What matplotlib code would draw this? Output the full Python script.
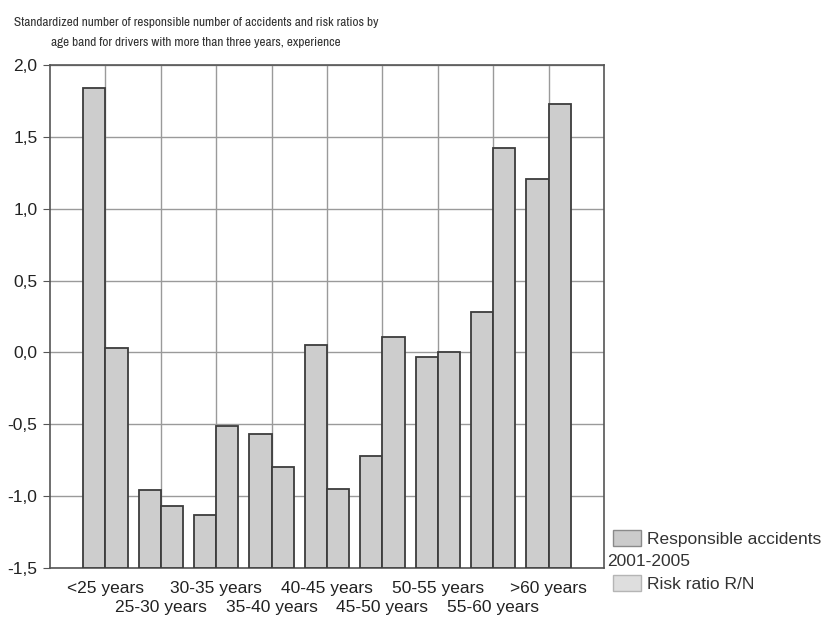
import numpy as np
import matplotlib.pyplot as plt
from matplotlib.patches import Patch
from matplotlib import font_manager

plt.rcParams['font.family'] = ['Liberation Sans', 'DejaVu Sans']

age_bands = ["<25 years", "25-30 years", "30-35 years", "35-40 years", "40-45 years",
             "45-50 years", "50-55 years", "55-60 years", ">60 years"]
responsible = [1.84, -0.96, -1.13, -0.57, 0.05, -0.72, -0.03, 0.28, 1.21]
risk_ratio = [0.03, -1.07, -0.51, -0.80, -0.95, 0.11, 0.00, 1.42, 1.73]
yticks = [-1.5, -1.0, -0.5, 0.0, 0.5, 1.0, 1.5, 2.0]
title_lines = ["Standardized number of responsible number of accidents and risk ratios by",
               "age band for drivers with more than three years, experience"]

base = -1.5
x = np.arange(1, len(age_bands) + 1)
w = 0.4

fig = plt.figure(figsize=(8.23, 6.17), dpi=100)
ax = fig.add_axes([50 / 823, 49 / 617, 554 / 823, 503 / 617])

ax.bar(x - w / 2, np.array(responsible) - base, w, bottom=base, align='center',
       color='#cdcdcd', edgecolor='#3c3c3c', linewidth=1.3, zorder=3)
ax.bar(x + w / 2, np.array(risk_ratio) - base, w, bottom=base, align='center',
       color='#cdcdcd', edgecolor='#3c3c3c', linewidth=1.3, zorder=3)

ax.set_xlim(0, 10)
ax.set_ylim(-1.5, 2.0)
ax.set_yticks(yticks)
ax.set_yticklabels([f"{v:.1f}".replace('.', ',') for v in yticks], fontsize=12.5, color='#222222')

# odd bands on the first row (major ticks), even bands one row lower (minor ticks)
ax.set_xticks(x[::2])
ax.set_xticklabels(age_bands[::2], fontsize=12.5, color='#222222')
ax.set_xticks(x[1::2], minor=True)
ax.set_xticklabels(age_bands[1::2], minor=True, fontsize=12.5, color='#222222')
ax.tick_params(axis='x', which='major', length=0, pad=9)
ax.tick_params(axis='x', which='minor', length=0, pad=23)
ax.tick_params(axis='y', length=5, color='#555555', pad=4)
ax.grid(True, axis='y', color='#9a9a9a', linewidth=1.0, zorder=0)
ax.grid(True, axis='x', which='both', color='#9a9a9a', linewidth=1.0, zorder=0)
for s in ax.spines.values():
    s.set_color('#555555')
    s.set_linewidth(1.2)

# title in a narrow face when available, sized to its line width
installed = {f.name for f in font_manager.fontManager.ttflist}
title_family = 'Liberation Sans'
for fam in ['Liberation Sans Narrow', 'Arimo Narrow', 'Archivo Narrow', 'PT Sans Narrow',
            'Roboto Condensed', 'Open Sans Condensed']:
    if fam in installed:
        title_family = fam
        break

t1 = fig.text(196 / 823, 1 - 22 / 617, title_lines[0], ha='center', va='center',
              family=title_family, fontsize=11, color='#333333')
t2 = fig.text(196 / 823, 1 - 42 / 617, title_lines[1], ha='center', va='center',
              family=title_family, fontsize=11, color='#333333')
fig.canvas.draw()
width = t1.get_window_extent().width
size = min(11 * 367 / width, 12)
t1.set_fontsize(size)
t2.set_fontsize(size)

handles = [Patch(facecolor='#cbcbcb', edgecolor='#8a8a8a', linewidth=1.0),
           Patch(facecolor='#dedede', edgecolor='#b5b5b5', linewidth=1.0)]
fig.legend(handles, ["Responsible accidents", "Risk ratio R/N"], loc='upper left',
           bbox_to_anchor=(606 / 823, 1 - 523 / 617), frameon=False, fontsize=12.5,
           handlelength=1.63, handleheight=1.05, handletextpad=0.33, labelspacing=1.6,
           borderaxespad=0, labelcolor='#333333')
fig.text(607 / 823, 1 - 561 / 617, "2001-2005", ha='left', va='center', fontsize=12.5, color='#333333')

fig.savefig("out.png", dpi=100)
